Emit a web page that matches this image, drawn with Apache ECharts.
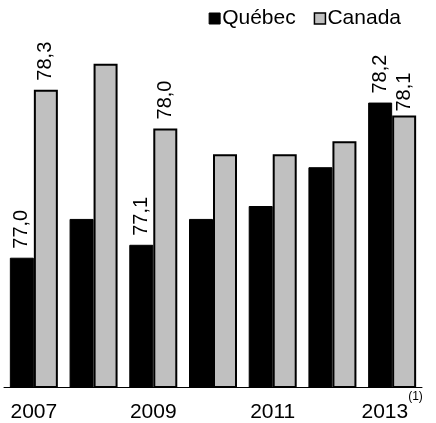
<!DOCTYPE html>
<html><head><meta charset="utf-8">
<script src="https://cdn.jsdelivr.net/npm/echarts@6/dist/echarts.min.js"></script>
<style>html,body{margin:0;padding:0;background:#fff}#c{width:436px;height:423px}</style>
</head><body><div id="c"></div>
<script>
const categories = ['2007','2008','2009','2010','2011','2012','2013'];
const quebec = [77.0, 77.3, 77.1, 77.3, 77.4, 77.7, 78.2];
const canada = [78.3, 78.5, 78.0, 77.8, 77.8, 77.9, 78.1];
const quebecLabeled = [0, 2, 6];
const canadaLabeled = [0, 2, 6];

const FONT = '"Liberation Sans", Arial, sans-serif';
function fmt(v){ return v.toFixed(1).replace('.', ','); }
function build(vals, labeled, special){
  return vals.map((v,i)=>{
    const lab = { show: labeled.indexOf(i) >= 0 };
    if (special && special[i]) Object.assign(lab, special[i]);
    return { value: v, label: lab };
  });
}
const labelStyle = {
  position: 'top', rotate: 90, align: 'left', verticalAlign: 'middle',
  distance: 11, offset: [-2, 0],
  fontFamily: FONT, fontSize: 20, color: '#000',
  formatter: p => fmt(p.value)
};
const chart = echarts.init(document.getElementById('c'), null, {renderer: 'canvas'});
chart.setOption({
  animation: false,
  backgroundColor: '#fff',
  legend: {
    top: 3, right: 30, itemWidth: 11, itemHeight: 11, itemGap: 18,
    textStyle: { fontFamily: FONT, fontSize: 21, color: '#000', padding: [0,0,0,-3] },
    data: [
      { name: 'Québec', icon: 'rect', itemStyle: { color: '#000', borderColor: '#000', borderWidth: 1 } },
      { name: 'Canada', icon: 'rect', itemStyle: { color: '#c0c0c0', borderColor: '#000', borderWidth: 1.5 } }
    ]
  },
  grid: { left: 4, right: 14, top: 25, bottom: 36, containLabel: false, outerBoundsMode: 'none' },
  xAxis: {
    type: 'category', data: categories,
    axisLine: { lineStyle: { color: '#000', width: 1 } },
    axisTick: { show: false },
    axisLabel: {
      interval: 1, margin: 13, fontFamily: FONT, fontSize: 21, color: '#000',
      formatter: v => v === '2013' ? '{a|' + v + '}{s|(1)}' : '{a|' + v + '}',
      rich: {
        a: { fontFamily: FONT, fontSize: 21, color: '#000', lineHeight: 24 },
        s: { fontFamily: FONT, fontSize: 12, color: '#000', lineHeight: 24, padding: [0, 0, 30, 0] }
      }
    }
  },
  yAxis: {
    type: 'value', min: 76, max: 78.8,
    show: false, splitLine: { show: false }
  },
  series: [
    {
      name: 'Québec', type: 'bar', barWidth: 24, barGap: '0%',
      itemStyle: { color: '#000', borderColor: '#000', borderWidth: 1 },
      label: labelStyle,
      data: build(quebec, quebecLabeled)
    },
    {
      name: 'Canada', type: 'bar', barWidth: 24, barGap: '0%',
      itemStyle: { color: '#c0c0c0', borderColor: '#000', borderWidth: 2 },
      label: labelStyle,
      data: build(canada, canadaLabeled, { 6: { distance: 2, offset: [2, 0] } })
    }
  ]
});
</script>
</body></html>
